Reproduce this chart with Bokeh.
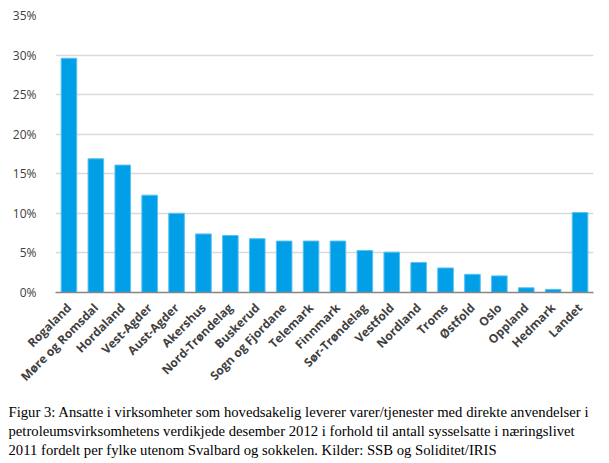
import math
from bokeh.plotting import figure
from bokeh.models import ColumnDataSource, Range1d, NumeralTickFormatter, Title, FixedTicker
from bokeh.embed import file_html
from bokeh.resources import INLINE

fylker = ["Rogaland", "Møre og Romsdal", "Hordaland", "Vest-Agder", "Aust-Agder",
          "Akershus", "Nord-Trøndelag", "Buskerud", "Sogn og Fjordane", "Telemark",
          "Finnmark", "Sør-Trøndelag", "Vestfold", "Nordland", "Troms", "Østfold",
          "Oslo", "Oppland", "Hedmark", "Landet"]
andel = [0.296, 0.169, 0.161, 0.123, 0.100, 0.074, 0.072, 0.068, 0.065, 0.065,
         0.065, 0.053, 0.051, 0.038, 0.031, 0.023, 0.021, 0.006, 0.004, 0.101]
y_ticks = [0, 0.05, 0.10, 0.15, 0.20, 0.25, 0.30, 0.35]
caption = [
    "Figur 3: Ansatte i virksomheter som hovedsakelig leverer varer/tjenester med direkte anvendelser i",
    "petroleumsvirksomhetens verdikjede desember 2012 i forhold til antall sysselsatte i næringslivet",
    "2011 fordelt per fylke utenom Svalbard og sokkelen. Kilder: SSB og Soliditet/IRIS",
]

src = ColumnDataSource(dict(x=fylker, top=andel))

p = figure(x_range=fylker, frame_width=538, frame_height=277, output_backend="svg",
           toolbar_location=None, min_border_left=55, min_border_right=12,
           min_border_top=15, min_border_bottom=2)
p.y_range = Range1d(0, 0.35)
p.vbar(x="x", top="top", width=0.58, source=src, fill_color="#009FE8",
       line_color="#5BC2F0", line_width=1)

p.outline_line_color = None
p.xgrid.grid_line_color = None
p.ygrid.grid_line_color = "#D9D9D9"
p.ygrid.grid_line_width = 1.3

p.yaxis.ticker = FixedTicker(ticks=y_ticks)
p.yaxis.formatter = NumeralTickFormatter(format="0%")
p.yaxis.axis_line_color = None
p.yaxis.major_tick_line_color = None
p.yaxis.minor_tick_line_color = None
p.yaxis.major_label_text_font = "Open Sans"
p.yaxis.major_label_text_font_size = "12px"
p.yaxis.major_label_text_color = "#404040"
p.yaxis.major_label_standoff = 13

p.xaxis.axis_line_color = "#868686"
p.xaxis.axis_line_width = 1.3
p.xaxis.major_tick_line_color = None
p.xaxis.minor_tick_line_color = None
p.xaxis.major_label_orientation = math.pi / 4
p.xaxis.major_label_text_font = "Open Sans"
p.xaxis.major_label_text_font_style = "bold"
p.xaxis.major_label_text_font_size = "12px"
p.xaxis.major_label_text_color = "#404040"
p.xaxis.major_label_standoff = 7
p.xaxis.axis_label = " "
p.xaxis.axis_label_text_font_size = "4px"
p.xaxis.axis_label_standoff = 0

for line in caption:
    t = Title(text=line, align="left", offset=-47, text_font="Liberation Serif",
              text_font_style="normal", text_font_size="14.7px", text_color="#000000",
              standoff=1)
    p.add_layout(t, "below")

open("out.html", "w").write(file_html(p, INLINE))
